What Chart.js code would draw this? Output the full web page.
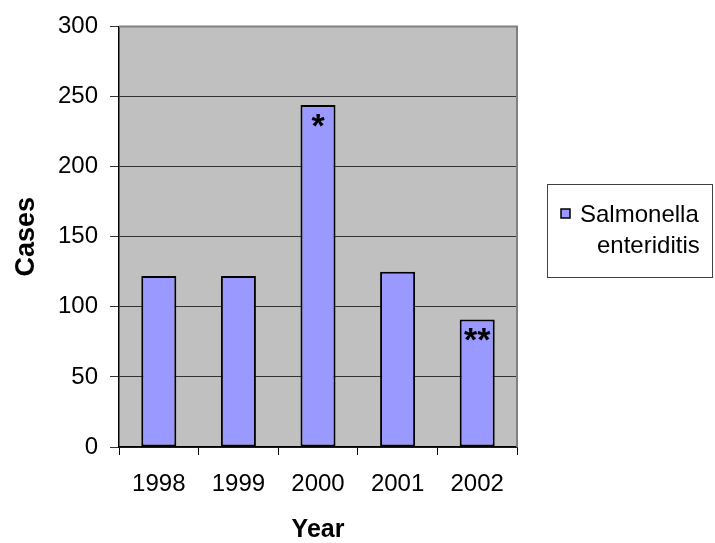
<!DOCTYPE html>
<html>
<head>
<meta charset="utf-8">
<script src="https://cdn.jsdelivr.net/npm/chart.js@4.4.1/dist/chart.umd.min.js"></script>
<style>
  html, body { margin: 0; padding: 0; background: #ffffff; }
  #wrap { width: 715px; height: 543px; }
</style>
</head>
<body>
<div id="wrap"><canvas id="c" width="715" height="543"></canvas></div>
<script>
const years = ['1998', '1999', '2000', '2001', '2002'];
const cases = [122, 122, 244, 125, 91];
const notes = ['', '', '*', '', '**'];
const seriesName = 'Salmonella enteriditis';
const yTicks = [0, 50, 100, 150, 200, 250, 300];

const FONT = "'Liberation Sans', Arial, sans-serif";
const BAR_COLOR = '#9999FF';

const decorPlugin = {
  id: 'decor',
  beforeDraw(chart) {
    const { ctx, chartArea: a } = chart;
    ctx.save();
    ctx.fillStyle = '#C0C0C0';
    ctx.fillRect(a.left, a.top, a.right - a.left, a.bottom - a.top);
    ctx.restore();
  },
  afterDatasetsDraw(chart) {
    const { ctx, chartArea: a } = chart;
    ctx.save();
    ctx.strokeStyle = '#808080';
    ctx.lineWidth = 2;
    ctx.beginPath();
    ctx.moveTo(a.left, a.top);
    ctx.lineTo(a.right, a.top);
    ctx.lineTo(a.right, a.bottom);
    ctx.stroke();
    const meta = chart.getDatasetMeta(0);
    ctx.fillStyle = '#000';
    ctx.font = 'bold 34px ' + FONT;
    ctx.textAlign = 'center';
    ctx.textBaseline = 'alphabetic';
    meta.data.forEach((bar, i) => {
      if (notes[i]) ctx.fillText(notes[i], bar.x, bar.y + 32);
    });
    const bx = 547.5, by = 184.5, bw = 165, bh = 93;
    ctx.strokeStyle = '#404040';
    ctx.lineWidth = 1;
    ctx.strokeRect(bx, by, bw, bh);
    ctx.fillStyle = BAR_COLOR;
    ctx.fillRect(561, 209, 9, 9);
    ctx.strokeStyle = '#000';
    ctx.lineWidth = 1.5;
    ctx.strokeRect(561, 209, 9, 9);
    const words = chart.data.datasets[0].label.split(' ');
    ctx.fillStyle = '#000';
    ctx.font = '24px ' + FONT;
    ctx.textAlign = 'left';
    ctx.fillText(words[0], 580, 222);
    ctx.fillText(words[1], 597, 253);
    ctx.restore();
  }
};

new Chart(document.getElementById('c'), {
  type: 'bar',
  data: {
    labels: years,
    datasets: [{
      label: seriesName,
      data: cases,
      backgroundColor: BAR_COLOR,
      borderColor: '#000000',
      borderWidth: 2,
      borderSkipped: false,
      barPercentage: 0.44,
      categoryPercentage: 1.0
    }]
  },
  options: {
    responsive: false,
    animation: false,
    devicePixelRatio: 1,
    layout: { padding: { top: 22, right: 198, left: 0, bottom: 0 } },
    plugins: { legend: { display: false }, tooltip: { enabled: false } },
    scales: {
      x: {
        afterFit(s) { s.height = 96; },
        grid: { offset: true, drawOnChartArea: false, drawTicks: true, tickLength: 8, color: '#000', lineWidth: 1 },
        border: { display: true, color: '#000', width: 1.5 },
        ticks: { color: '#000', padding: 15, font: { family: FONT, size: 24 } },
        title: { display: true, text: 'Year', color: '#000', padding: { top: 0, bottom: 0 },
                 font: { family: FONT, size: 25, weight: 'bold', lineHeight: 1 } }
      },
      y: {
        min: 0, max: 300,
        afterFit(s) { s.width = 119; },
        afterBuildTicks(s) { s.ticks = yTicks.map(v => ({ value: v })); },
        grid: { color: '#333333', lineWidth: 1, drawTicks: true, tickLength: 9 },
        border: { display: true, color: '#000', width: 1.5 },
        ticks: { color: '#000', padding: 12, font: { family: FONT, size: 24 } },
        title: { display: true, text: 'Cases', color: '#000', padding: { top: 13.5, bottom: 0 },
                 font: { family: FONT, size: 27, weight: 'bold', lineHeight: 1 } }
      }
    }
  },
  plugins: [decorPlugin]
});
</script>
</body>
</html>
